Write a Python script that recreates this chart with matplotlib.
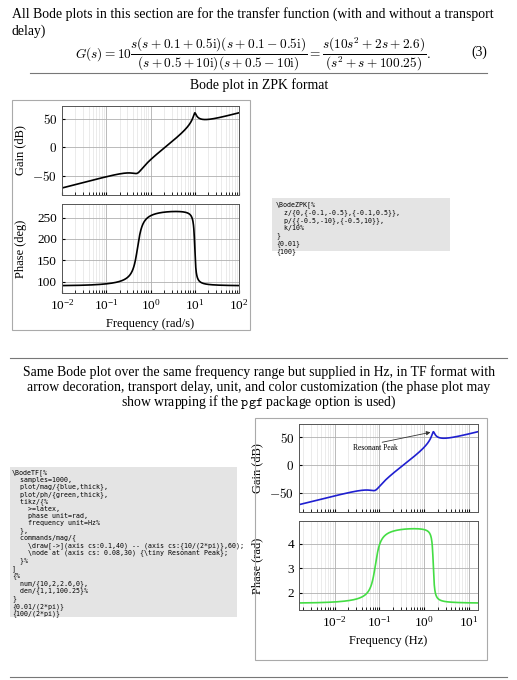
import numpy as np
import matplotlib
matplotlib.use("Agg")
import matplotlib.pyplot as plt
from matplotlib.patches import Rectangle
from matplotlib.lines import Line2D

# transfer function data (as shown on the page)
num = [10, 2, 2.6, 0]
den = [1, 1, 100.25]
w_min, w_max = 0.01, 100.0
n_samples = 1000

plt.rcParams['font.family'] = ['Liberation Serif', 'DejaVu Serif']
plt.rcParams['mathtext.fontset'] = 'cm'

W, H = 517, 680
fig = plt.figure(figsize=(W/100, H/100), dpi=100)

def px(x, y):
    return x / W, 1 - y / H

def add_axes(x0, y0, x1, y1):
    return fig.add_axes([x0/W, 1-y1/H, (x1-x0)/W, (y1-y0)/H])

w = np.logspace(np.log10(w_min), np.log10(w_max), n_samples)
G = np.polyval(num, 1j*w) / np.polyval(den, 1j*w)
mag = 20*np.log10(np.abs(G))
ph = np.unwrap(np.angle(G))
if ph[0] < 0:
    ph += 2*np.pi

def style(ax, xlim, ylim):
    ax.set_xscale('log')
    ax.set_xlim(*xlim)
    ax.set_ylim(*ylim)
    ax.grid(True, which='major', color='#b0b0b0', lw=0.6)
    ax.grid(True, which='minor', color='#dcdcdc', lw=0.4)
    ax.tick_params(labelsize=9.5, length=2, which='both', direction='in')
    for s in ax.spines.values():
        s.set_color('#555555'); s.set_linewidth(0.7)

FS = 9.9
# ---- text ----
fig.text(12/W, 1-14/H, "All Bode plots in this section are for the transfer function (with and without a transport", fontsize=FS, va='center')
fig.text(12/W, 1-31/H, "delay)", fontsize=FS, va='center')
fig.text(75/W, 1-54/H, r"$G(s) = 10\dfrac{s(s+0.1+0.5\mathrm{i})(s+0.1-0.5\mathrm{i})}{(s+0.5+10\mathrm{i})(s+0.5-10\mathrm{i})} = \dfrac{s(10s^2+2s+2.6)}{(s^2+s+100.25)}.$",
         fontsize=9.6, va='center')
fig.text(487/W, 1-52/H, "(3)", fontsize=FS, va='center', ha='right')
fig.add_artist(Line2D([30/W, 487/W], [1-73/H]*2, color='#777777', lw=0.8))
fig.text(259/W, 1-85/H, "Bode plot in ZPK format", fontsize=FS, va='center', ha='center')

fig.add_artist(Line2D([10/W, 507/W], [1-358/H]*2, color='#777777', lw=0.8))
for i, t in enumerate(["Same Bode plot over the same frequency range but supplied in Hz, in TF format with",
                       "arrow decoration, transport delay, unit, and color customization (the phase plot may",
                       "show wrapping if the $\\mathtt{pgf}$ package option is used)"]):
    fig.text(259/W, 1-(372+15*i)/H, t, fontsize=FS, va='center', ha='center')
fig.add_artist(Line2D([10/W, 507/W], [1-677/H]*2, color='#777777', lw=0.8))

# frames
fig.add_artist(Rectangle(px(12, 330), 238/W, 230/H, fill=False, ec='#aaaaaa', lw=0.8))
fig.add_artist(Rectangle(px(255, 660), 232/W, 242/H, fill=False, ec='#aaaaaa', lw=0.8))

# code boxes
fig.add_artist(Rectangle(px(272, 251), 178/W, 53/H, color='#e4e4e4', lw=0))
code1 = "\\BodeZPK[%\n  z/{0,{-0.1,-0.5},{-0.1,0.5}},\n  p/{{-0.5,-10},{-0.5,10}},\n  k/10%\n}\n{0.01}\n{100}"
fig.text(276/W, 1-201/H, code1, fontsize=4.8, family='DejaVu Sans Mono', va='top', linespacing=1.25)

fig.add_artist(Rectangle(px(10, 617), 227/W, 150/H, color='#e4e4e4', lw=0))
code2 = ("\\BodeTF[%\n  samples=1000,\n  plot/mag/{blue,thick},\n  plot/ph/{green,thick},\n  tikz/{%\n"
         "    >=latex,\n    phase unit=rad,\n    frequency unit=Hz%\n  },\n  commands/mag/{\n"
         "    \\draw[->](axis cs:0.1,40) -- (axis cs:{10/(2*pi)},60);\n"
         "    \\node at (axis cs: 0.08,30) {\\tiny Resonant Peak};\n  }%\n]\n{%\n"
         "  num/{10,2,2.6,0},\n  den/{1,1,100.25}%\n}\n{0.01/(2*pi)}\n{100/(2*pi)}")
fig.text(12/W, 1-469/H, code2, fontsize=4.8, family='DejaVu Sans Mono', va='top', linespacing=1.17)

# ---- chart 1 ----
ax1 = add_axes(62, 106, 239, 195)
ax1.plot(w, mag, color='black', lw=1.2)
style(ax1, (w_min, w_max), (-84, 72))
ax1.set_yticks([-50, 0, 50]); ax1.set_yticklabels(['$-50$', '$0$', '$50$'])
ax1.tick_params(axis='x', which='both', labelbottom=False)
ax1.set_ylabel("Gain (dB)", fontsize=9)
ax2 = add_axes(62, 204, 239, 293)
ax2.plot(w, np.degrees(ph), color='black', lw=1.2)
style(ax2, (w_min, w_max), (73, 282))
ax2.set_yticks([100, 150, 200, 250])
ax2.set_ylabel("Phase (deg)", fontsize=9)
ax2.set_xlabel("Frequency (rad/s)", fontsize=9)
for a in (ax1, ax2):
    a.yaxis.set_label_coords(-0.2, 0.5)

# ---- chart 2 ----
f = w / (2*np.pi)
ax3 = add_axes(299, 424, 478, 512)
ax3.plot(f, mag, color='#1f1fd0', lw=1.2)
style(ax3, (f[0], f[-1]), (-85, 74))
ax3.set_yticks([-50, 0, 50]); ax3.set_yticklabels(['$-50$', '$0$', '$50$'])
ax3.tick_params(axis='x', which='both', labelbottom=False)
ax3.set_ylabel("Gain (dB)", fontsize=9)
ax3.annotate("", xy=(10/(2*np.pi), 60), xytext=(0.1, 40),
             arrowprops=dict(arrowstyle='-|>', color='#333333', lw=0.6, mutation_scale=6))
ax3.text(0.08, 30, "Resonant Peak", fontsize=5.5, ha='center', va='center')
ax4 = add_axes(299, 521, 478, 610)
ax4.plot(f, ph, color='#44dd44', lw=1.2)
style(ax4, (f[0], f[-1]), (1.29, 4.93))
ax4.set_yticks([2, 3, 4])
ax4.set_ylabel("Phase (rad)", fontsize=9)
ax4.set_xlabel("Frequency (Hz)", fontsize=9)
for a in (ax3, ax4):
    a.yaxis.set_label_coords(-0.2, 0.5)

fig.savefig("out.png", dpi=100)
